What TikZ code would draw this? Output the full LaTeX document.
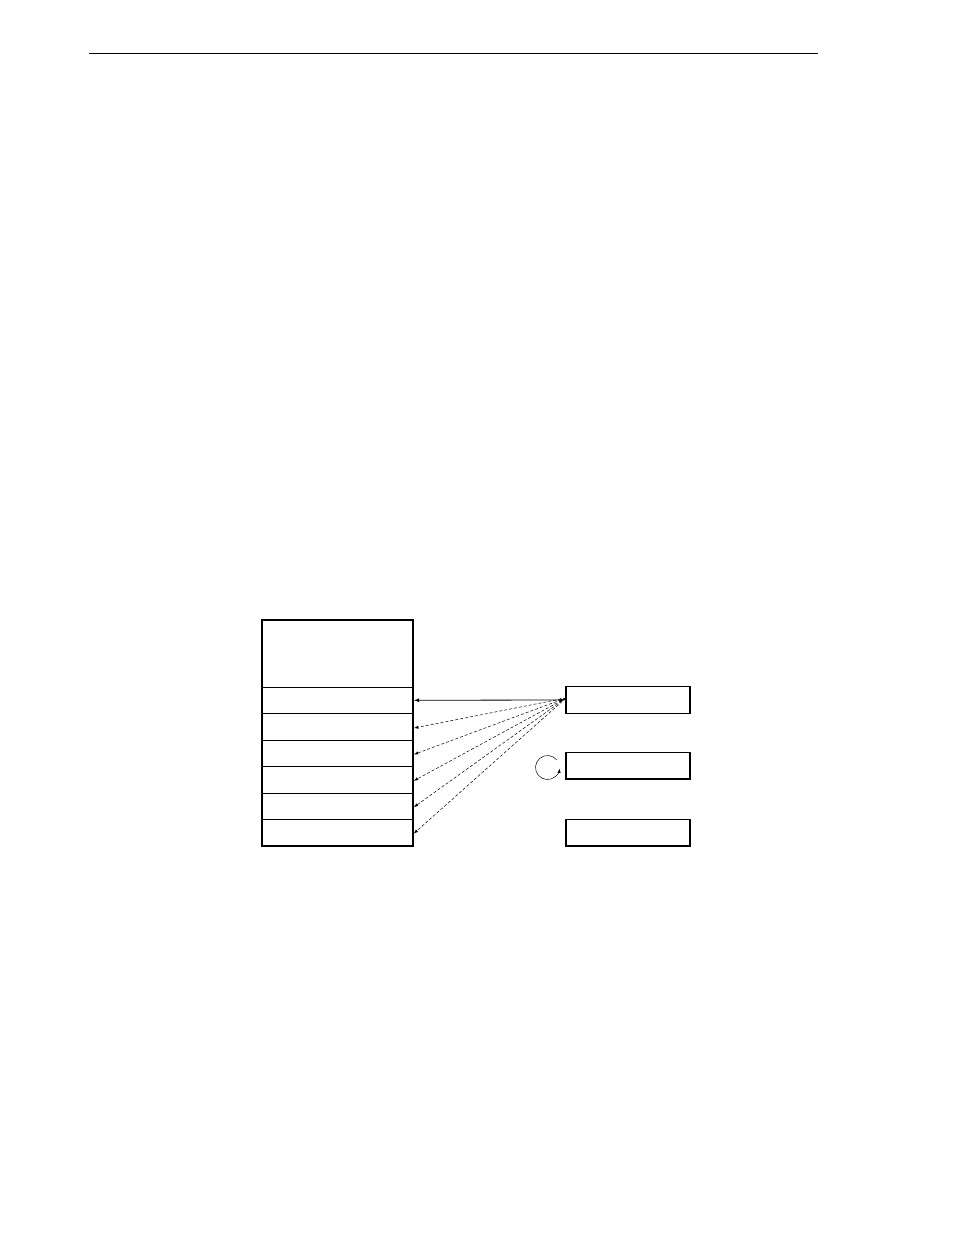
\documentclass[tikz,border=0pt]{standalone}
\usetikzlibrary{positioning}
\tikzset{
  cell/.style={draw, line width=0.8pt, minimum width=151pt, minimum height=26.5pt, inner sep=0pt, outer sep=0pt},
  reg/.style={draw, line width=1.2pt, minimum width=124pt, minimum height=26.5pt, inner sep=0pt, outer sep=0pt},
  link/.style={->, >=latex, line width=0.5pt, shorten >=1pt},
}
\begin{document}
\begin{tikzpicture}[x=1pt,y=-1pt]
      \useasboundingbox (0,0) rectangle (954,1235) ;
      \draw[line width=1pt] (89,53)--(818,53) ;
      % stack
      \node[cell, minimum height=67pt] (top) at (337.5,653.5) {} ;
      \node[cell, below=0pt of top] (s1) {} ;
      \node[cell, below=0pt of s1] (s2) {} ;
      \node[cell, below=0pt of s2] (s3) {} ;
      \node[cell, below=0pt of s3] (s4) {} ;
      \node[cell, below=0pt of s4] (s5) {} ;
      \node[cell, below=0pt of s5] (s6) {} ;
      \draw[line width=1.3pt] (top.north west) rectangle (s6.south east) ;
      % registers
      \node[reg] (r1) at (628,700) {} ;
      \node[reg] (r2) at (628,765.7) {} ;
      \node[reg] (r3) at (628,832.7) {} ;
      \coordinate (hub) at ([yshift=2pt]r1.west) ;
      \draw[link, <->, line width=0.8pt, shorten <=1pt] (r1.west) -- (s1.east) ;
      \foreach \i in {2,...,6}
        \draw[link, dashed, dash pattern=on 3pt off 2pt] (hub) -- ([yshift=-1.5pt]s\i.east) ;
      \coordinate (loop) at (547.5,767.5) ;
      \draw[->, >=latex, line width=0.5pt] ([shift={(-40:12)}]loop) arc[start angle=-40, end angle=-355, radius=12] ;
    \end{tikzpicture}
\end{document}
